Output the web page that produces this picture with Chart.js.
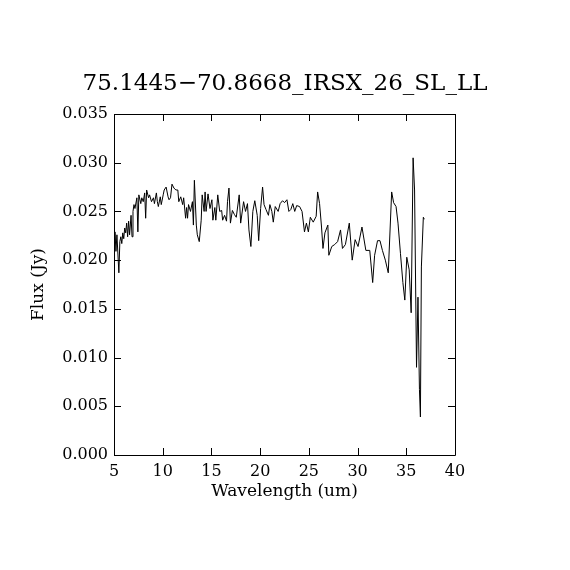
<!DOCTYPE html>
<html>
<head>
<meta charset="utf-8">
<script src="https://cdn.jsdelivr.net/npm/chart.js@4"></script>
<style>
  html, body { margin: 0; padding: 0; background: #fff; }
  canvas { display: block; }
</style>
</head>
<body>
<canvas id="c" width="570" height="570"></canvas>
<script>
const chartTitle = "75.1445\u221270.8668_IRSX_26_SL_LL";
const xTitle = "Wavelength (um)";
const yTitle = "Flux (Jy)";
const xTickValues = [5, 10, 15, 20, 25, 30, 35, 40];
const yTickValues = [0.000, 0.005, 0.010, 0.015, 0.020, 0.025, 0.030, 0.035];

const wavelength = [
  5.00, 5.10, 5.20, 5.30, 5.50, 5.60, 5.70, 5.80, 5.90, 6.00,
  6.10, 6.20, 6.30, 6.40, 6.50, 6.60, 6.75, 6.85, 6.95, 7.05,
  7.15, 7.35, 7.45, 7.55, 7.75, 7.85, 8.00, 8.15, 8.25, 8.35,
  8.55, 8.65, 8.85, 9.05, 9.15, 9.35, 9.45, 9.55, 9.75, 9.85,
  10.05, 10.15, 10.35, 10.55, 10.65, 10.80, 10.95, 11.15, 11.35, 11.55,
  11.65, 11.85, 12.05, 12.15, 12.35, 12.45, 12.55, 12.65, 12.85, 13.05,
  13.15, 13.25, 13.45, 13.55, 13.75, 13.95, 14.05, 14.25, 14.35, 14.45,
  14.65, 14.85, 15.05, 15.15, 15.35, 15.45, 15.65, 15.85, 16.05, 16.15,
  16.35, 16.55, 16.65, 16.80, 16.95, 17.15, 17.35, 17.55, 17.85, 18.00,
  18.30, 18.50, 18.70, 18.85, 19.05, 19.25, 19.45, 19.70, 19.85, 20.05,
  20.25, 20.40, 20.60, 20.85, 21.00, 21.20, 21.35, 21.55, 21.85, 22.05,
  22.30, 22.50, 22.75, 22.95, 23.15, 23.35, 23.55, 23.75, 24.05, 24.30,
  24.55, 24.75, 24.95, 25.15, 25.45, 25.75, 25.90, 26.10, 26.30, 26.45,
  26.65, 26.95, 27.05, 27.35, 27.65, 27.95, 28.25, 28.45, 28.75, 29.15,
  29.45, 29.75, 30.05, 30.45, 30.85, 31.25, 31.55, 31.75, 32.05, 32.30,
  32.55, 32.85, 33.15, 33.50, 33.70, 33.95, 34.15, 34.40, 34.65, 34.85,
  35.05, 35.30, 35.50, 35.70, 35.85, 36.05, 36.20, 36.35, 36.45, 36.55,
  36.75, 36.85
];
const flux = [
  0.0219, 0.0229, 0.0209, 0.0226, 0.0187, 0.0219, 0.0224, 0.0217, 0.0228, 0.0222,
  0.0233, 0.0228, 0.0238, 0.0224, 0.0240, 0.0226, 0.0246, 0.0224, 0.0250, 0.0257,
  0.0253, 0.0264, 0.0229, 0.0267, 0.0258, 0.0264, 0.0260, 0.0269, 0.0243, 0.0272,
  0.0264, 0.0267, 0.0260, 0.0264, 0.0258, 0.0269, 0.0260, 0.0255, 0.0265, 0.0257,
  0.0267, 0.0272, 0.0275, 0.0265, 0.0262, 0.0264, 0.0278, 0.0274, 0.0272, 0.0272,
  0.0260, 0.0265, 0.0257, 0.0264, 0.0243, 0.0254, 0.0243, 0.0257, 0.0250, 0.0260,
  0.0236, 0.0282, 0.0236, 0.0226, 0.0219, 0.0241, 0.0267, 0.0250, 0.0270, 0.0250,
  0.0268, 0.0253, 0.0262, 0.0241, 0.0254, 0.0241, 0.0267, 0.0250, 0.0251, 0.0241,
  0.0246, 0.0240, 0.0260, 0.0274, 0.0238, 0.0251, 0.0247, 0.0244, 0.0267, 0.0238,
  0.0260, 0.0250, 0.0258, 0.0231, 0.0214, 0.0250, 0.0261, 0.0246, 0.0220, 0.0253,
  0.0275, 0.0257, 0.0252, 0.0246, 0.0257, 0.0250, 0.0239, 0.0255, 0.0250, 0.0258,
  0.0261, 0.0259, 0.0262, 0.0250, 0.0252, 0.0258, 0.0250, 0.0256, 0.0255, 0.0250,
  0.0229, 0.0238, 0.0229, 0.0244, 0.0239, 0.0245, 0.0270, 0.0258, 0.0234, 0.0212,
  0.0228, 0.0236, 0.0205, 0.0214, 0.0216, 0.0219, 0.0231, 0.0212, 0.0216, 0.0238,
  0.0200, 0.0221, 0.0214, 0.0234, 0.0210, 0.0210, 0.0177, 0.0205, 0.0220, 0.0220,
  0.0210, 0.0200, 0.0187, 0.0270, 0.0259, 0.0255, 0.0238, 0.0207, 0.0177, 0.0159,
  0.0203, 0.0190, 0.0146, 0.0305, 0.0272, 0.0090, 0.0162, 0.0067, 0.0039, 0.0193,
  0.0244, 0.0242
];

const points = wavelength.map((w, i) => ({ x: w, y: flux[i] }));
const FONT = "'DejaVu Serif', serif";

const frameTicks = {
  id: 'frameTicks',
  afterDraw(chart) {
    const { ctx, chartArea: a, scales: { x, y } } = chart;
    const L = 7;
    ctx.save();
    ctx.strokeStyle = '#000';
    ctx.lineWidth = 1;
    ctx.beginPath();
    ctx.rect(a.left + 0.5, a.top + 0.5, a.right - a.left, a.bottom - a.top);
    xTickValues.forEach(v => {
      const px = Math.round(x.getPixelForValue(v)) + 0.5;
      ctx.moveTo(px, a.bottom); ctx.lineTo(px, a.bottom - L);
      ctx.moveTo(px, a.top); ctx.lineTo(px, a.top + L);
    });
    yTickValues.forEach(v => {
      const py = Math.round(y.getPixelForValue(v)) + 0.5;
      ctx.moveTo(a.left, py); ctx.lineTo(a.left + L, py);
      ctx.moveTo(a.right, py); ctx.lineTo(a.right - L, py);
    });
    ctx.stroke();
    ctx.restore();
  }
};

new Chart(document.getElementById('c'), {
  type: 'line',
  data: {
    datasets: [{
      data: points,
      borderColor: '#000',
      borderWidth: 1,
      pointRadius: 0,
      tension: 0,
      fill: false,
      yAxisID: 'y'
    }]
  },
  options: {
    responsive: false,
    animation: false,
    layout: { padding: 0 },
    plugins: {
      legend: { display: false },
      tooltip: { enabled: false },
      title: {
        display: true,
        text: chartTitle,
        color: '#000',
        font: { family: FONT, size: 23, weight: 'normal' },
        padding: { top: 70, bottom: 16.4 }
      }
    },
    scales: {
      x: {
        type: 'linear',
        min: 5, max: 40,
        afterBuildTicks: s => { s.ticks = xTickValues.map(v => ({ value: v })); },
        afterFit: s => { s.height = 115; },
        grid: { display: false, drawTicks: false },
        border: { display: false },
        ticks: {
          color: '#000',
          padding: 7,
          maxRotation: 0,
          font: { family: FONT, size: 16 },
          callback: v => String(v)
        },
        title: {
          display: true,
          text: xTitle,
          color: '#000',
          font: { family: FONT, size: 17 },
          padding: { top: 0, bottom: 68 }
        }
      },
      y: {
        type: 'linear',
        position: 'left',
        min: 0, max: 0.035,
        afterBuildTicks: s => { s.ticks = yTickValues.map(v => ({ value: v })); },
        afterFit: s => { s.width = 114; },
        grid: { display: false, drawTicks: false },
        border: { display: false },
        ticks: {
          color: '#000',
          padding: 6,
          font: { family: FONT, size: 16 },
          callback: v => Number(v).toFixed(3)
        },
        title: {
          display: true,
          text: yTitle,
          color: '#000',
          font: { family: FONT, size: 17 },
          padding: { top: 28, bottom: 0 }
        }
      },
      yRight: {
        type: 'linear',
        position: 'right',
        min: 0, max: 0.035,
        afterFit: s => { s.width = 115; },
        grid: { display: false, drawTicks: false },
        border: { display: false },
        ticks: { display: false }
      }
    }
  },
  plugins: [frameTicks]
});
</script>
</body>
</html>
